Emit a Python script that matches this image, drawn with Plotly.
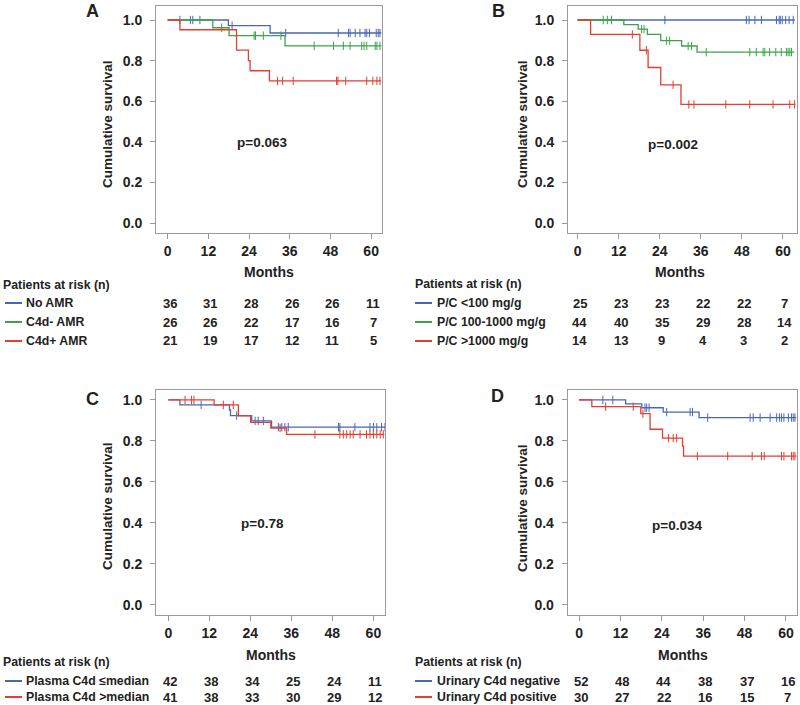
import plotly.graph_objects as go

W, H = 800, 705
BLUE = "#4a67b5"
GREEN = "#3ba349"
RED = "#e53d30"
TXT = "#222222"
BOX = "#9a9a9a"
FONT = "Liberation Sans"

months_ticks = [0, 12, 24, 36, 48, 60]
surv_ticks = [0.0, 0.2, 0.4, 0.6, 0.8, 1.0]

# ---------------- Panel A ----------------
a_names = ["No AMR", "C4d- AMR", "C4d+ AMR"]
a1_t = [17.9, 30.2]
a1_s = [0.972, 0.936]
a1_c = [3.6, 6.7, 7.4, 9.5, 19.0, 34.8, 50.3, 53.3, 53.8, 55.3, 56.7, 58.2, 58.7, 59.5, 61.5, 62.1, 62.6]
a2_t = [13.3, 18.1, 34.6]
a2_s = [0.962, 0.923, 0.873]
a2_c = [15.9, 25.5, 25.9, 28.2, 33.4, 43.2, 48.9, 51.8, 53.8, 57.2, 57.9, 58.7, 61.2, 61.7, 62.6]
a3_t = [3.6, 20.3, 23.8, 24.3, 30.0]
a3_s = [0.952, 0.852, 0.800, 0.750, 0.700]
a3_c = [32.4, 33.9, 37.0, 49.8, 50.2, 52.5, 58.7, 60.5, 61.7, 62.6]
a_risk = [[36, 31, 28, 26, 26, 11], [26, 26, 22, 17, 16, 7], [21, 19, 17, 12, 11, 5]]
a_p = "p=0.063"

# ---------------- Panel B ----------------
b_names = ["P/C <100 mg/g", "P/C 100-1000 mg/g", "P/C >1000 mg/g"]
b1_t = []
b1_s = []
b1_c = [9.9, 25.5, 49.3, 50.1, 51.8, 53.7, 58.1, 58.9, 59.2, 59.8, 60.8, 61.8, 63.0]
b2_t = [13.5, 17.7, 20.4, 24.3, 30.4, 34.9]
b2_s = [0.977, 0.955, 0.929, 0.898, 0.872, 0.842]
b2_c = [7.5, 8.7, 9.9, 18.7, 19.4, 26.0, 26.9, 32.3, 33.3, 37.6, 50.3, 52.2, 54.2, 54.7, 56.1,
        57.9, 59.5, 61.0, 61.5, 62.0, 62.5]
b3_t = [3.8, 18.2, 20.6, 24.3, 30.2]
b3_s = [0.929, 0.851, 0.766, 0.681, 0.584]
b3_c = [16.0, 20.1, 27.9, 32.5, 34.0, 43.3, 50.3, 57.1, 62.0, 63.4]
b_risk = [[25, 23, 23, 22, 22, 7], [44, 40, 35, 29, 28, 14], [14, 13, 9, 4, 3, 2]]
b_p = "p=0.002"

# ---------------- Panel C ----------------
c_names = ["Plasma C4d \u2264median", "Plasma C4d >median"]
c1_t = [3.4, 17.9, 18.2, 24.4, 30.2]
c1_s = [0.976, 0.951, 0.924, 0.898, 0.867]
c1_c = [9.6, 20.0, 25.4, 26.3, 27.8, 32.2, 33.2, 34.1, 35.1, 49.8, 50.2, 54.6, 59.0, 60.0, 61.0,
        62.4, 63.4]
c2_t = [13.4, 20.5, 24.1, 30.0, 34.6]
c2_s = [0.976, 0.922, 0.891, 0.863, 0.832]
c2_c = [4.9, 6.8, 7.5, 16.1, 19.0, 32.7, 42.9, 50.2, 51.2, 52.2, 53.2, 54.1, 56.1, 58.0, 59.0,
        60.0, 61.0, 62.0, 62.9]
c_risk = [[42, 38, 34, 25, 24, 11], [41, 38, 33, 30, 29, 12]]
c_p = "p=0.78"

# ---------------- Panel D ----------------
d_names = ["Urinary C4d negative", "Urinary C4d positive"]
d1_t = [13.5, 18.2, 24.4, 34.8]
d1_s = [0.981, 0.962, 0.941, 0.914]
d1_c = [6.9, 9.8, 19.1, 19.6, 20.3, 25.4, 32.2, 32.9, 37.3, 49.6, 50.5, 52.5, 55.4, 57.3, 58.1,
        58.7, 59.4, 60.7, 61.6, 62.1, 62.6]
d2_t = [3.7, 17.9, 20.6, 24.2, 30.0, 30.3]
d2_s = [0.967, 0.933, 0.857, 0.814, 0.775, 0.726]
d2_c = [7.7, 15.7, 18.5, 25.9, 27.3, 28.3, 34.3, 43.1, 50.2, 52.9, 53.7, 58.7, 59.4, 61.6, 62.1, 62.6]
d_risk = [[52, 48, 44, 38, 37, 16], [30, 27, 22, 16, 15, 7]]
d_p = "p=0.034"


def px(x):
    return x / W


def py(y):
    return 1 - y / H


panels = [
    dict(letter="A", curves=[(a1_t, a1_s, a1_c, BLUE, 63.0), (a2_t, a2_s, a2_c, GREEN, 63.0),
                             (a3_t, a3_s, a3_c, RED, 62.9)],
         names=a_names, risk=a_risk, p=a_p,
         xdom=(156, 382), ydom=(6, 233), xr=[-3.45, 63.2], yr=[-0.049, 1.069],
         letter_xy=(92, 11), p_xy=(262, 142), ytitle_xy=(107, 124), months_y=272,
         head_xy=(1, 285), rows_y=[303, 322, 341], key_x=(5, 22), name_x=24),
    dict(letter="B", curves=[(b1_t, b1_s, b1_c, BLUE, 63.5), (b2_t, b2_s, b2_c, GREEN, 63.3),
                             (b3_t, b3_s, b3_c, RED, 63.6)],
         names=b_names, risk=b_risk, p=b_p,
         xdom=(568, 797), ydom=(6, 233), xr=[-2.8, 64.1], yr=[-0.049, 1.069],
         letter_xy=(498, 11), p_xy=(673, 145), ytitle_xy=(522, 124), months_y=272,
         head_xy=(413, 284), rows_y=[303, 322, 341], key_x=(415, 432), name_x=435),
    dict(letter="C", curves=[(c1_t, c1_s, c1_c, BLUE, 63.4), (c2_t, c2_s, c2_c, RED, 63.2)],
         names=c_names, risk=c_risk, p=c_p,
         xdom=(156, 385), ydom=(389.5, 615), xr=[-3.6, 63.4], yr=[-0.049, 1.051],
         letter_xy=(92, 399), p_xy=(262, 523), ytitle_xy=(107, 506), months_y=655,
         head_xy=(1, 662), rows_y=[681, 697], key_x=(5, 22), name_x=24),
    dict(letter="D", curves=[(d1_t, d1_s, d1_c, BLUE, 63.0), (d2_t, d2_s, d2_c, RED, 63.0)],
         names=d_names, risk=d_risk, p=d_p,
         xdom=(567.7, 797), ydom=(389.5, 615), xr=[-3.3, 63.2], yr=[-0.049, 1.051],
         letter_xy=(497, 396), p_xy=(677, 525), ytitle_xy=(522, 508), months_y=655,
         head_xy=(413, 662), rows_y=[681, 697], key_x=(415, 432), name_x=435),
]


def step_xy(t, s, end):
    xs = [0.0] + list(t) + [end]
    ys = [1.0] + list(s) + [s[-1] if s else 1.0]
    return xs, ys


def surv_at(t, s, c):
    v = 1.0
    for ti, si in zip(t, s):
        if ti <= c:
            v = si
    return v


def bold(size):
    return dict(family=FONT, size=size, color=TXT, weight="bold")


def note(text, x, y, xref="paper", xanchor="center", size=13, **kw):
    return dict(text=text, x=x, y=y, xref=xref, yref="paper", xanchor=xanchor, yanchor="middle",
                showarrow=False, font=bold(size), **kw)


fig = go.Figure()
annotations = []
shapes = []
layout_axes = {}

for i, P in enumerate(panels):
    n = i + 1
    xa = "x" if n == 1 else f"x{n}"
    ya = "y" if n == 1 else f"y{n}"
    for (t, s, c, col, end) in P["curves"]:
        xs, ys = step_xy(t, s, end)
        fig.add_trace(go.Scatter(x=xs, y=ys, mode="lines", line=dict(color=col, width=1.3, shape="hv"),
                                 xaxis=xa, yaxis=ya, showlegend=False, hoverinfo="skip"))
        fig.add_trace(go.Scatter(x=c, y=[surv_at(t, s, ci) for ci in c], mode="markers",
                                 marker=dict(symbol="line-ns", size=6, line=dict(color=col, width=1)),
                                 xaxis=xa, yaxis=ya, showlegend=False, hoverinfo="skip"))
    axfont = bold(14)
    layout_axes["xaxis" if n == 1 else f"xaxis{n}"] = dict(
        domain=[px(P["xdom"][0]), px(P["xdom"][1])], anchor=ya, range=P["xr"],
        tickvals=months_ticks, ticks="outside", ticklen=5, tickcolor=BOX, tickwidth=1,
        showline=True, linecolor=BOX, linewidth=1, mirror=True, showgrid=False, zeroline=False,
        tickfont=axfont, fixedrange=True, automargin=False)
    layout_axes["yaxis" if n == 1 else f"yaxis{n}"] = dict(
        domain=[py(P["ydom"][1]), py(P["ydom"][0])], anchor=xa, range=P["yr"],
        tickvals=surv_ticks, tickformat=".1f", ticks="outside", ticklen=5, tickcolor=BOX, tickwidth=1,
        showline=True, linecolor=BOX, linewidth=1, mirror=True, showgrid=False, zeroline=False,
        tickfont=axfont, fixedrange=True, automargin=False, ticklabelstandoff=5)

    annotations.append(note(P["letter"], px(P["letter_xy"][0]), py(P["letter_xy"][1]), size=18))
    annotations.append(note(P["p"], px(P["p_xy"][0]), py(P["p_xy"][1]), size=13.5))
    annotations.append(note("Cumulative survival", px(P["ytitle_xy"][0]), py(P["ytitle_xy"][1]),
                            size=13.5, textangle=-90))
    annotations.append(note("Months", 30, py(P["months_y"]), xref=xa, size=14))
    annotations.append(note("Patients at risk (n)", px(P["head_xy"][0]), py(P["head_xy"][1]),
                            xanchor="left", size=12.3))
    cols = [c[3] for c in P["curves"]]
    for name, row, col, ry in zip(P["names"], P["risk"], cols, P["rows_y"]):
        shapes.append(dict(type="line", xref="paper", yref="paper",
                           x0=px(P["key_x"][0]), x1=px(P["key_x"][1]), y0=py(ry), y1=py(ry),
                           line=dict(color=col, width=2)))
        annotations.append(note(name, px(P["name_x"]), py(ry), xanchor="left", size=12.3))
        for m, v in zip(months_ticks, row):
            annotations.append(note(str(v), m, py(ry), xref=xa, size=13, xshift=2))

fig.update_layout(template="none", width=W, height=H, margin=dict(l=0, r=0, t=0, b=0, pad=0),
                  autosize=False, paper_bgcolor="white", plot_bgcolor="white",
                  annotations=annotations, shapes=shapes, **layout_axes)

fig.write_html("out.html", config={"responsive": False, "displayModeBar": False},
               post_script="document.body.style.margin='0';document.body.style.overflow='hidden';")
